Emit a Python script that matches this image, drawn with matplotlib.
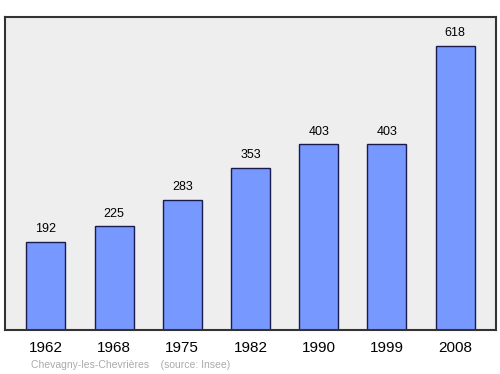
import matplotlib
matplotlib.use('Agg')
import matplotlib.pyplot as plt

# data
years = ['1962', '1968', '1975', '1982', '1990', '1999', '2008']
population = [192, 225, 283, 353, 403, 403, 618]

fig = plt.figure(figsize=(5, 3.74), dpi=100)
ax = fig.add_axes([0.01, 0.1176, 0.982, 0.837])
ax.set_facecolor('#eeeeee')

x = range(len(years))
ax.bar(x, population, width=0.57, color='#7799ff', edgecolor='#1a1a4d', linewidth=1)

for i, v in enumerate(population):
    ax.text(i, v + 15, str(v), ha='center', va='bottom', fontsize=9,
            family='Liberation Sans')

ax.set_xlim(-0.6, 6.6)
ax.set_ylim(0, 680)
ax.set_yticks([])
ax.set_xticks(list(x))
ax.set_xticklabels(years, fontsize=11, family='Liberation Sans')
ax.tick_params(axis='x', length=0, pad=8)
for s in ax.spines.values():
    s.set_color('#333333')
    s.set_linewidth(1.5)

fig.text(0.062, 0.016, 'Chevagny-les-Chevrières    (source: Insee)',
         fontsize=7.5, color='#aaaaaa', family='Liberation Sans')

fig.savefig('out.png', dpi=100)
